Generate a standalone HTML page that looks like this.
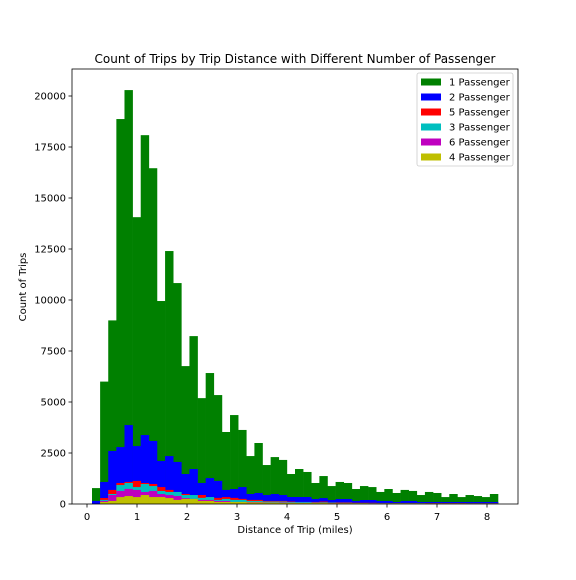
<!DOCTYPE html>
<html><head><meta charset="utf-8"><style>
body{margin:0;background:#fff;font-family:"DejaVu Sans","Liberation Sans",sans-serif;}
svg text{font-family:"DejaVu Sans","Liberation Sans",sans-serif;fill:#000}
</style></head><body>
<svg id="chart" width="576" height="576" xmlns="http://www.w3.org/2000/svg">
<rect width="576" height="576" fill="#fff"/>
<g id="bars"></g>
<g id="axes"></g>
</svg>
<script>
const binStart = 0.1;
const binWidth = 0.1624;
const series = ["1 Passenger","2 Passenger","5 Passenger","3 Passenger","6 Passenger","4 Passenger"];
const colors = ["#008000","#0000ff","#ff0000","#00bfbf","#bf00bf","#bfbf00"];
const p1 = [780,6000,9000,18870,20290,14060,18080,16460,9950,12400,10830,6760,8230,5190,6420,5340,3530,4360,3630,2350,2990,1910,2300,2160,1470,1715,1570,1030,1370,880,1080,1030,735,880,830,590,735,540,690,640,440,590,540,340,490,340,440,390,340,490];
const p2 = [150,1080,2600,2790,3870,2840,3380,3090,2110,2350,2060,1470,1715,1030,1270,1130,690,735,830,490,540,440,490,440,343,343,343,245,290,196,245,245,147,196,196,147,147,98,147,147,98,98,98,98,98,98,98,98,98,98];
const p5 = [0,294,690,1030,1080,1130,1030,980,830,690,540,490,390,440,340,300,340,300,250,200,200,150,150,150,120,100,100,100,120,80,80,80,60,60,60,50,50,50,50,50,40,40,40,40,40,40,30,30,30,30];
const p3 = [0,200,490,930,1030,830,980,880,640,590,590,440,440,300,340,200,250,200,200,150,150,120,120,120,100,100,100,80,80,70,60,60,50,50,50,50,40,40,40,40,40,30,30,30,30,30,30,30,30,30];
const p6 = [0,150,440,640,740,690,590,640,490,440,390,290,250,200,200,150,150,100,100,100,100,80,80,80,70,60,60,60,50,50,50,50,40,40,40,40,30,30,30,30,30,30,30,30,30,30,30,30,30,30];
const p4 = [0,100,150,340,390,340,440,340,340,290,200,250,250,150,150,100,100,100,100,80,80,70,70,60,60,50,50,50,50,40,40,40,40,40,30,30,30,30,30,30,30,30,30,30,30,30,30,30,30,30];
const yTicks = [0,2500,5000,7500,10000,12500,15000,17500,20000];
const xTicks = [0,1,2,3,4,5,6,7,8];
const NS="http://www.w3.org/2000/svg";
const L=72,R=518,T=69,B=504;
function xs(v){return 87+v*50;}
function ys(v){return 504-v*0.0204;}
function mk(tag,attrs,parent){const e=document.createElementNS(NS,tag);for(const k in attrs)e.setAttribute(k,attrs[k]);parent.appendChild(e);return e;}
const bars=document.getElementById('bars'), axes=document.getElementById('axes');
const data=[p1,p2,p5,p3,p6,p4];
data.forEach((arr,si)=>{
  arr.forEach((v,i)=>{
    const x0=xs(binStart+i*binWidth), x1=xs(binStart+(i+1)*binWidth);
    const r=mk('rect',{x:x0,y:ys(v),width:x1-x0+0.3,height:B-ys(v),fill:colors[si]},bars);
    
    
  });
});
const frame=mk('rect',{x:L,y:T,width:R-L,height:B-T,fill:'none',stroke:'#000','stroke-width':0.8},axes);


yTicks.forEach(t=>{
  const y=ys(t);
  mk('line',{x1:L-3.5,x2:L,y1:y,y2:y,stroke:'#000','stroke-width':0.8},axes);
  const tx=mk('text',{x:L-6,y:y+3.5,'text-anchor':'end','font-size':10},axes);
  tx.textContent=t;
  
  
});
xTicks.forEach(t=>{
  const x=xs(t);
  mk('line',{x1:x,x2:x,y1:B,y2:B+3.5,stroke:'#000','stroke-width':0.8},axes);
  const tx=mk('text',{x:x,y:B+16,'text-anchor':'middle','font-size':10},axes);
  tx.textContent=t;
  
  
});
const title=mk('text',{x:295,y:63,'text-anchor':'middle','font-size':12},axes);
title.textContent='Count of Trips by Trip Distance with Different Number of Passenger';


const xl=mk('text',{x:295,y:533,'text-anchor':'middle','font-size':10},axes);
xl.textContent='Distance of Trip (miles)';


const yl=mk('text',{x:0,y:0,'text-anchor':'middle','font-size':10,transform:'translate(26,287) rotate(-90)'},axes);
yl.textContent='Count of Trips';


const lg=mk('g',{},axes);


mk('rect',{x:417,y:73,width:96,height:93,fill:'#fff',stroke:'#ccc','stroke-width':0.8,rx:2},lg);
series.forEach((s,i)=>{
  const y=82+i*15;
  const e=mk('g',{},lg);
  
  
  mk('rect',{x:421,y:y-3.5,width:20,height:7,fill:colors[i]},e);
  const t=mk('text',{x:449,y:y+3.5,'font-size':10},e);
  t.textContent=s;
});
</script>
</body></html>
